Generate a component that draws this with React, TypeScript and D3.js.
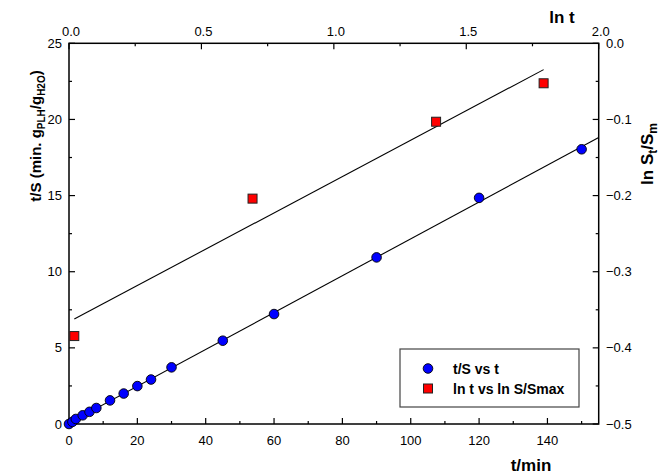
import React from "react";
import * as d3 from "d3";

// t/S vs t series
const tValues = [0, 1, 2, 4, 6, 8, 12, 16, 20, 24, 30, 45, 60, 90, 120, 150];
const tsValues = [0, 0.14, 0.33, 0.57, 0.8, 1.05, 1.55, 2.0, 2.49, 2.92, 3.72, 5.47, 7.22, 10.94, 14.85, 18.04];

// ln t vs ln S/Smax series
const lnTValues = [0.02, 0.693, 1.386, 1.792];
const lnSValues = [-0.3845, -0.204, -0.103, -0.0525];

const bottomTicks = [0, 20, 40, 60, 80, 100, 120, 140];
const bottomMinor = [10, 30, 50, 70, 90, 110, 130, 150];
const topTicks = [0, 0.5, 1.0, 1.5, 2.0];
const topMinor = [0.25, 0.75, 1.25, 1.75];
const leftTicks = [0, 5, 10, 15, 20, 25];
const leftMinor = [2.5, 7.5, 12.5, 17.5, 22.5];
const rightTicks = [-0.5, -0.4, -0.3, -0.2, -0.1, 0.0];
const rightMinor = [-0.45, -0.35, -0.25, -0.15, -0.05];

const legendLabels = ["t/S vs t", "ln t vs ln S/Smax"];

function fit(xs: number[], ys: number[]) {
  const mx = d3.mean(xs) as number;
  const my = d3.mean(ys) as number;
  let sxy = 0, sxx = 0;
  xs.forEach((x, i) => { sxy += (x - mx) * (ys[i] - my); sxx += (x - mx) * (x - mx); });
  const b = sxy / sxx;
  return { a: my - b * mx, b };
}

const FONT = "'Liberation Sans', Arial, Helvetica, sans-serif";

export default function App() {
  const L = 69, R = 598.7, T = 43.3, B = 424;
  const x = d3.scaleLinear().domain([0, 155]).range([L, R]);
  const xTop = d3.scaleLinear().domain([0, 2]).range([L, R]);
  const y = d3.scaleLinear().domain([0, 25]).range([B, T]);
  const yR = d3.scaleLinear().domain([-0.5, 0]).range([B, T]);

  const f1 = fit(tValues, tsValues);
  const f2 = fit(lnTValues, lnSValues);
  const line1: [number, number][] = [0, 155].map((t) => [x(t), y(f1.a + f1.b * t)]);
  const lx0 = d3.min(lnTValues) as number, lx1 = d3.max(lnTValues) as number;
  const line2: [number, number][] = [lx0, lx1].map((v) => [xTop(v), yR(f2.a + f2.b * v)]);
  const lineGen = d3.line();

  const maj = 6, min = 3;
  const tickStyle = { stroke: "#000", strokeWidth: 1.2 };
  const fmt1 = d3.format(".1f");

  return (
    <svg width={672} height={475} style={{ position: "absolute", left: 0, top: 0, background: "#fff" }} fontFamily={FONT}>
      <defs>
        <clipPath id="plotclip"><rect x={L} y={T} width={R - L} height={B - T} /></clipPath>
      </defs>
      <rect x={0} y={0} width={672} height={475} fill="#fff" />

      {/* fit lines */}
      <g clipPath="url(#plotclip)">
        <path d={lineGen(line1) as string} stroke="#000" strokeWidth={1.1} fill="none" />
        <path d={lineGen(line2) as string} stroke="#000" strokeWidth={1.1} fill="none" />
      </g>

      {/* frame */}
      <rect x={L} y={T} width={R - L} height={B - T} fill="none" stroke="#000" strokeWidth={1.5} />

      {/* bottom ticks */}
      {bottomTicks.map((v) => (
        <g key={"b" + v}>
          <line x1={x(v)} x2={x(v)} y1={B} y2={B - maj} {...tickStyle} />
          <text x={x(v)} y={445} textAnchor="middle" fontSize={13}>{v}</text>
        </g>
      ))}
      {bottomMinor.map((v) => (
        <line key={"bm" + v} x1={x(v)} x2={x(v)} y1={B} y2={B - min} {...tickStyle} />
      ))}
      {/* top ticks */}
      {topTicks.map((v) => (
        <g key={"t" + v}>
          <line x1={xTop(v)} x2={xTop(v)} y1={T} y2={T + maj} {...tickStyle} />
          <text x={xTop(v) + 2} y={36} textAnchor="middle" fontSize={13}>{fmt1(v)}</text>
        </g>
      ))}
      {topMinor.map((v) => (
        <line key={"tm" + v} x1={xTop(v)} x2={xTop(v)} y1={T} y2={T + min} {...tickStyle} />
      ))}
      {/* left ticks */}
      {leftTicks.map((v) => (
        <g key={"l" + v}>
          <line x1={L} x2={L + maj} y1={y(v)} y2={y(v)} {...tickStyle} />
          <text x={62} y={y(v)} dy="0.35em" textAnchor="end" fontSize={13}>{v}</text>
        </g>
      ))}
      {leftMinor.map((v) => (
        <line key={"lm" + v} x1={L} x2={L + min} y1={y(v)} y2={y(v)} {...tickStyle} />
      ))}
      {/* right ticks */}
      {rightTicks.map((v) => (
        <g key={"r" + v}>
          <line x1={R} x2={R - maj} y1={yR(v)} y2={yR(v)} {...tickStyle} />
          <text x={606} y={yR(v)} dy="0.35em" textAnchor="start" fontSize={13}>{fmt1(v)}</text>
        </g>
      ))}
      {rightMinor.map((v) => (
        <line key={"rm" + v} x1={R} x2={R - min} y1={yR(v)} y2={yR(v)} {...tickStyle} />
      ))}

      {/* axis titles */}
      <text x={531} y={471} textAnchor="middle" fontSize={17} fontWeight="bold">t/min</text>
      <text x={562} y={23} textAnchor="middle" fontSize={17} fontWeight="bold">ln t</text>
      <text transform="translate(41,136) rotate(-90)" textAnchor="middle" fontSize={15} fontWeight="bold">
        t/S (min. g<tspan fontSize={10} dy={4}>PLH</tspan><tspan dy={-4}>/g</tspan><tspan fontSize={10} dy={4}>H2O</tspan><tspan dy={-4}>)</tspan>
      </text>
      <text transform="translate(653,154) rotate(-90)" textAnchor="middle" fontSize={17} fontWeight="bold">
        ln S<tspan fontSize={12} dy={4}>t</tspan><tspan dy={-4}>/S</tspan><tspan fontSize={12} dy={4}>m</tspan>
      </text>

      {/* data points */}
      {tValues.map((t, i) => (
        <circle key={"c" + i} cx={x(t)} cy={y(tsValues[i])} r={4.8} fill="#0000ff" stroke="#000" strokeWidth={0.9} />
      ))}
      {lnTValues.map((v, i) => (
        <rect key={"s" + i} x={xTop(v) - 4.5} y={yR(lnSValues[i]) - 4.5} width={9} height={9} fill="#ff0000" stroke="#222" strokeWidth={1} />
      ))}

      {/* legend */}
      <rect x={400} y={349} width={179} height={58} fill="#fff" stroke="#444" strokeWidth={1.2} />
      <circle cx={428} cy={368.5} r={4.8} fill="#0000ff" stroke="#000" strokeWidth={0.9} />
      <rect x={423.5} y={384} width={9} height={9} fill="#ff0000" stroke="#222" strokeWidth={1} />
      <text x={453} y={373.5} fontSize={14} fontWeight="bold">{legendLabels[0]}</text>
      <text x={453} y={393.5} fontSize={14} fontWeight="bold">{legendLabels[1]}</text>
    </svg>
  );
}
